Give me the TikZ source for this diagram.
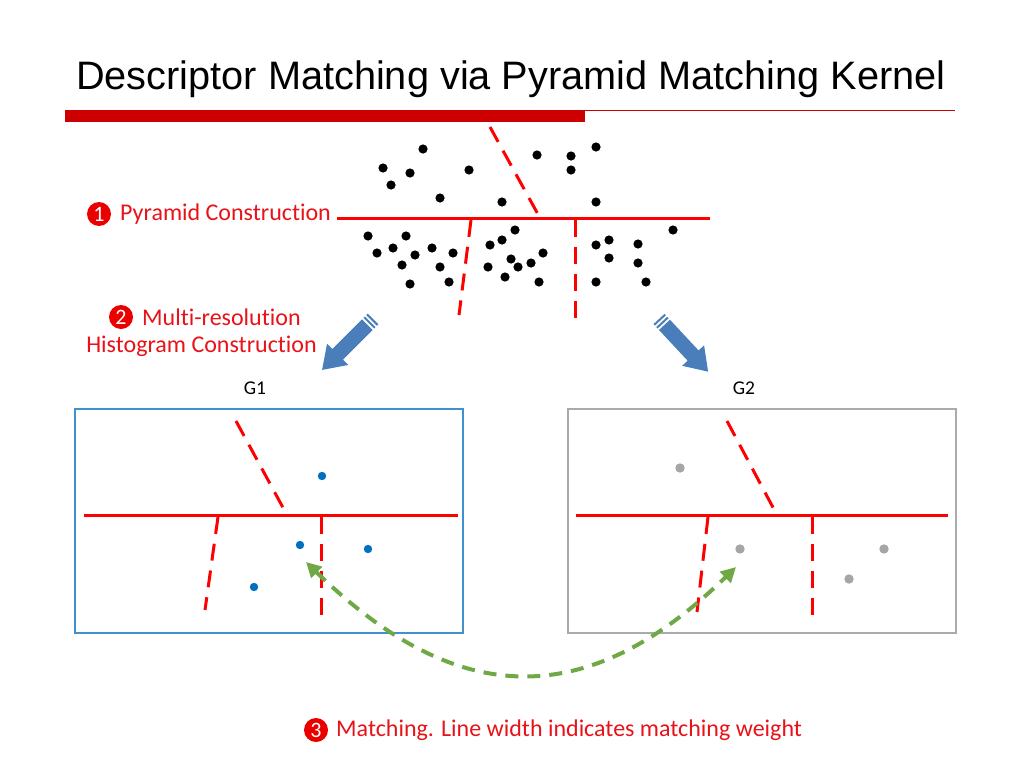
\documentclass[tikz,border=0pt]{standalone}
\usepackage{fontspec}
\setmainfont{Carlito}[Ligatures={NoCommon}]
\newfontfamily\titlefont{Liberation Sans}
\usetikzlibrary{arrows.meta}
\definecolor{slidered}{RGB}{232,18,24}
\definecolor{barred}{RGB}{204,0,0}
\definecolor{arrowblue}{RGB}{74,126,187}
\definecolor{dotblue}{RGB}{0,112,192}
\definecolor{dotgrey}{RGB}{166,166,166}
\definecolor{boxblue}{RGB}{64,145,205}
\definecolor{boxgrey}{RGB}{170,170,170}
\definecolor{matchgreen}{RGB}{112,168,70}
\begin{document}
\begin{tikzpicture}[x=1pt,y=-1pt,>={Triangle[length=15pt,width=15pt]},
	cut/.style={red,line width=3},
	cutdash/.style={cut,dash pattern=on 17pt off 10pt},
	numdot/.style={circle,fill=red!92!black,text=white,inner sep=0,minimum size=24pt,font=\fontsize{22}{22}\selectfont},
	lbl/.style={text=slidered,inner sep=0,font=\fontsize{24}{28}\selectfont},
	gbox/.style={minimum width=388,minimum height=224,inner sep=0,line width=1.6}]
	\useasboundingbox (0,0) rectangle (1024,768);
	% title and bar
	\node[anchor=base west,inner sep=0,font=\titlefont\fontsize{39.7}{44}\selectfont] (title) at (76,89) {Descriptor Matching via Pyramid Matching Kernel};
	\fill[barred] (65,110) rectangle (585,122);
	\draw[barred,line width=1.2] (585,110.5) -- (955,110.5);
	% step labels
	\node[numdot] (n1) at (99,214) {1};
	\node[lbl,anchor=west] (l1) at (120,214) {Pyramid Construction};
	\node[numdot] (n2) at (121,317) {2};
	\node[lbl,anchor=west] (l2) at (142,317) {Multi-resolution};
	\node[lbl] (l2b) at (201.5,346) {Histogram Construction};
	\node[numdot] (n3) at (316,730) {3};
	\node[lbl,anchor=west] (l3) at (336,730) {Matching. Line width indicates matching weight};
	% feature space
	\draw[cut] (337,218) -- (710,218);
	\draw[cutdash] (490,127) -- (540,218);
	\draw[cutdash] (471,220) -- (459,315);
	\draw[cutdash] (575,220) -- (575,322);
	\foreach \x/\y in {423/149,383/168,410/173,391/185,469/170,440/198,537/155,571/156,
		571/170,596/147,502/202,596/202,673/230,368/236,406/236,377/253,393/248,415/255,
		432/248,453/253,402/265,440/267,410/284,449/282,490/245,502/240,515/230,543/253,
		511/259,518/267,531/263,488/267,505/277,539/282,596/245,609/240,638/244,609/258,
		638/263,596/282,646/282}
	\fill (\x,\y) circle (4.6);
	% block arrows
	\foreach \sx/\sy/\ang in {373/319/-135,659/319/-47}{
		\begin{scope}[shift={(\sx,\sy)},rotate=\ang]
			\fill[arrowblue] (0,-7.5) rectangle (2,7.5) (4,-7.5) rectangle (6,7.5)
			(8,-7.5) -- (50,-7.5) -- (50,-15) -- (72,0) -- (50,15) -- (50,7.5) -- (8,7.5) -- cycle;
		\end{scope}}
	% histograms
	\node[font=\fontsize{19.5}{21}\selectfont] (g1) at (255,388) {G1};
	\node[font=\fontsize{19.5}{21}\selectfont] (g2) at (744,388) {G2};
	\node[gbox,draw=boxblue] (box1) at (269,521) {};
	\node[gbox,draw=boxgrey] (box2) at (762,521) {};
	\draw[cut] (84,515) -- (458,515);
	\draw[cutdash] (236,421) -- (287,515);
	\draw[cutdash] (218,517) -- (205,610);
	\draw[cutdash] (321,517) -- (321,617);
	\draw[cut] (576,515) -- (948,515);
	\draw[cutdash] (727,421) -- (777,515);
	\draw[cutdash] (708,517) -- (697,612);
	\draw[cutdash] (812,517) -- (812,617);
	\foreach \x/\y in {322/476,300/545,368/549,254/587}
	\fill[dotblue] (\x,\y) circle (4.2);
	\foreach \x/\y in {680/468,740/549,884/549,849/579}
	\fill[dotgrey] (\x,\y) circle (4.7);
	% matching
	\coordinate (m1) at (306,562);
	\coordinate (m2) at (736,567);
	\draw[<->,matchgreen,line width=4,dash pattern=on 13pt off 9pt] (m1) .. controls (456,708) and (586,713) .. (m2);
\end{tikzpicture}
\end{document}
